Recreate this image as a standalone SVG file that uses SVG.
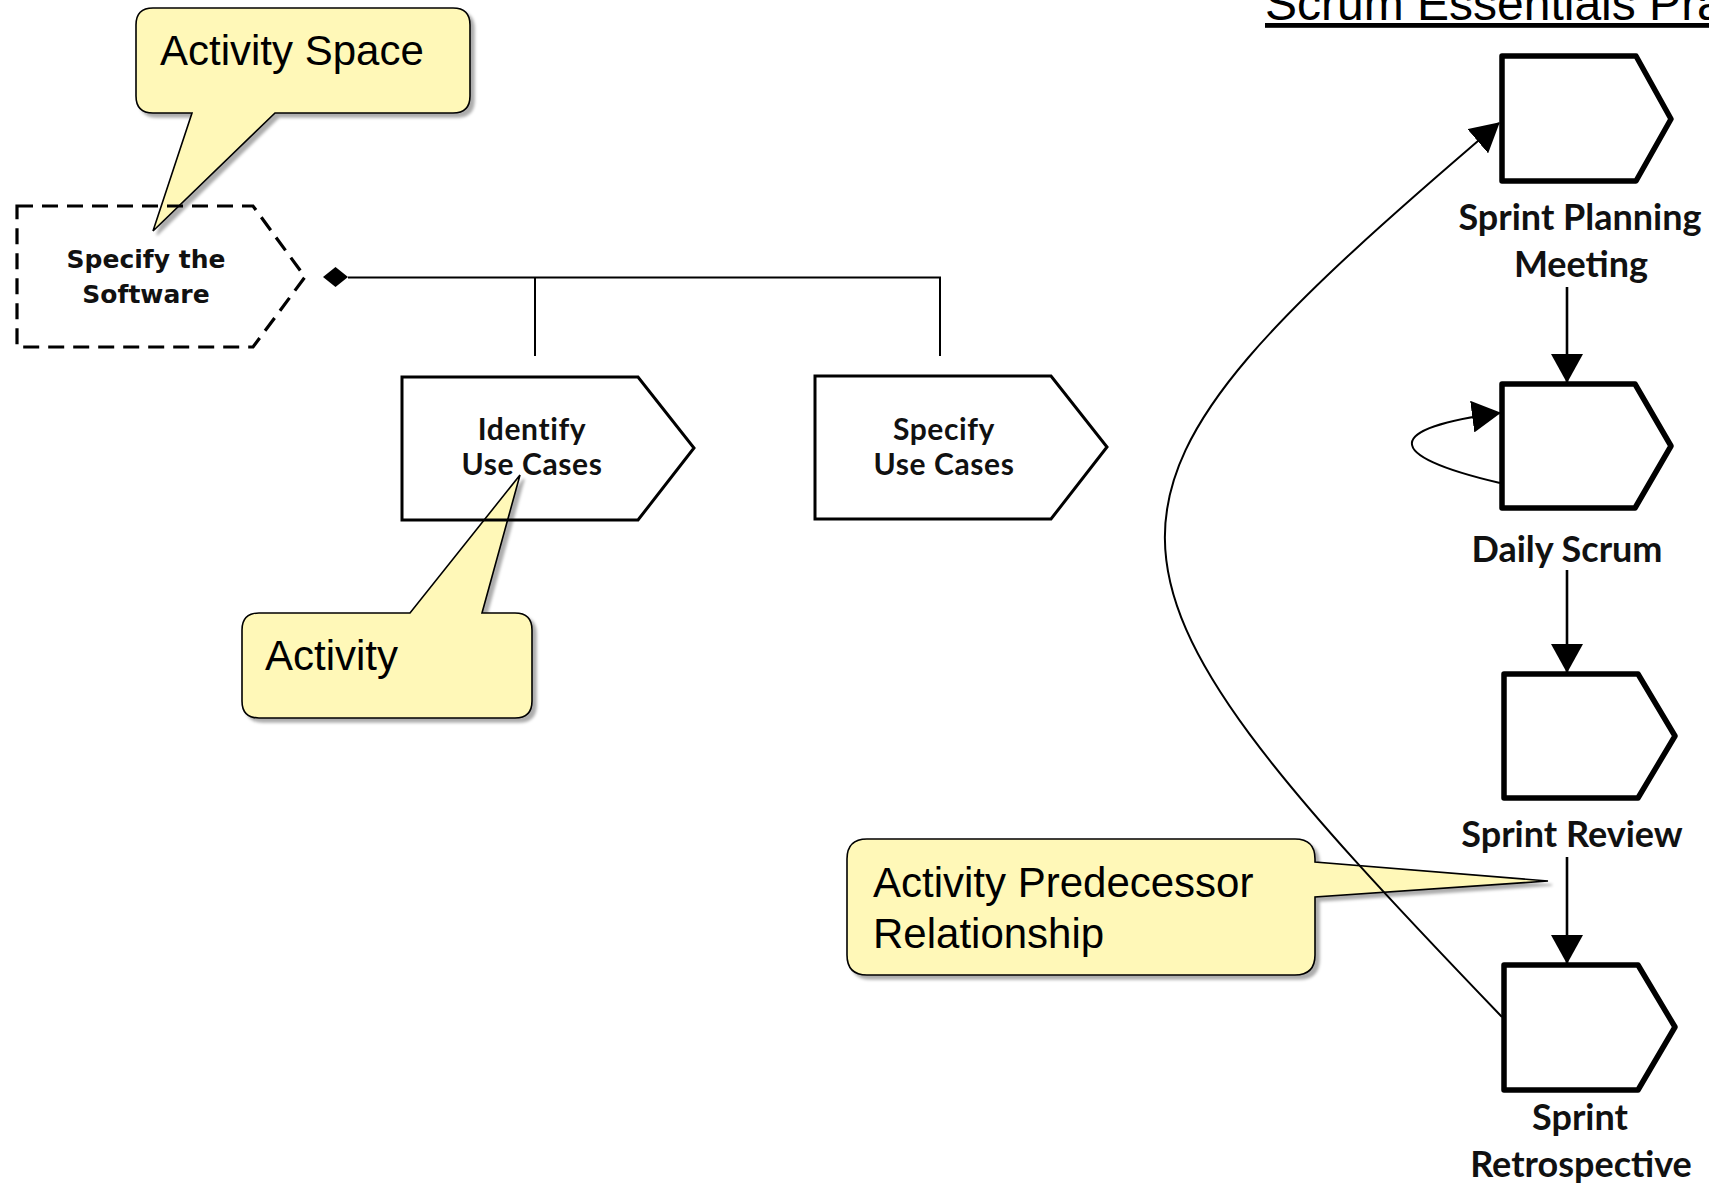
<svg xmlns="http://www.w3.org/2000/svg" width="1709" height="1187" viewBox="0 0 1709 1187">
  <style>
    .note { fill: #fff8b8; stroke: #000; stroke-width: 1.6; filter: url(#shadow); }
    .note-text { font-family: "Liberation Sans", Arial, sans-serif; font-size: 42px; fill: #000; }
    .act { fill: none; stroke: #000; stroke-width: 3; stroke-linejoin: miter; }
    .act-big { fill: none; stroke: #000; stroke-width: 5.5; stroke-linejoin: round; }
    .space { fill: none; stroke: #000; stroke-width: 3.2; stroke-dasharray: 16 9; }
    .lbl { font-family: Lato, "Open Sans", sans-serif; font-weight: 700; fill: #111; text-anchor: middle; }
    .lbl-sm { font-size: 30px; letter-spacing: 0.6px; }
    .lbl-space { font-family: "DejaVu Sans", Verdana, sans-serif; font-weight: 700; font-size: 25px; fill: #111; text-anchor: middle; }
    .conn { fill: none; stroke: #000; stroke-width: 2; }
    .conn-v { fill: none; stroke: #000; stroke-width: 2.6; }
  </style>
  <defs>
    <filter id="shadow" x="-10%" y="-10%" width="130%" height="130%">
      <feDropShadow dx="4" dy="4" stdDeviation="1.5" flood-color="#000" flood-opacity="0.32"/>
    </filter>
    <marker id="arrow" markerUnits="userSpaceOnUse" viewBox="0 0 29 32" markerWidth="29" markerHeight="32" refX="28" refY="16" orient="auto">
      <path d="M0,0 L29,16 L0,32 Z" fill="#000"/>
    </marker>
  </defs>

  <rect x="0" y="0" width="1709" height="1187" fill="#fff"/>

  <!-- practice title, runs past the right edge -->
  <g id="title">
    <text x="1265" y="20" font-family="Liberation Sans, Arial, sans-serif" font-size="48" text-decoration="underline" fill="#000">Scrum Essentials Practice</text>
  </g>

  <!-- annotation callouts -->
  <g id="note-activity-space">
    <path class="note" d="M153,8 H453 Q470,8 470,25 V96 Q470,113 453,113 H275 L153,231 L192,113 H153 Q136,113 136,96 V25 Q136,8 153,8 Z"/>
    <text class="note-text" x="160" y="65">Activity Space</text>
  </g>
  <g id="note-activity">
    <path class="note" d="M259,613 H410 L520,475 L482,613 H515 Q532,613 532,630 V701 Q532,718 515,718 H259 Q242,718 242,701 V630 Q242,613 259,613 Z"/>
    <text class="note-text" x="265" y="670">Activity</text>
  </g>
  <g id="note-predecessor">
    <path class="note" d="M867,839 H1295 Q1315,839 1315,859 V862 L1548,881 L1315,897 V955 Q1315,975 1295,975 H867 Q847,975 847,955 V859 Q847,839 867,839 Z"/>
    <text class="note-text" x="873" y="897" font-size="42.6">Activity Predecessor</text>
    <text class="note-text" x="873" y="948" font-size="42.6">Relationship</text>
  </g>

  <!-- activity space (dashed) -->
  <g id="node-specify-software">
    <path class="space" d="M17,206 H253 L305,277 L253,347 H17 Z"/>
    <text class="lbl-space" x="146" y="268">Specify the</text>
    <text class="lbl-space" x="146" y="303">Software</text>
  </g>

  <!-- activities -->
  <g id="node-identify-use-cases">
    <path class="act" d="M402,377 H638 L694,448 L638,520 H402 Z"/>
    <text class="lbl lbl-sm" x="532" y="440">Identify</text>
    <text class="lbl lbl-sm" x="532" y="475">Use Cases</text>
  </g>
  <g id="node-specify-use-cases">
    <path class="act" d="M815,376 H1051 L1107,447 L1051,519 H815 Z"/>
    <text class="lbl lbl-sm" x="944" y="440">Specify</text>
    <text class="lbl lbl-sm" x="944" y="475">Use Cases</text>
  </g>

  <!-- scrum activities -->
  <g id="node-sprint-planning">
    <path class="act-big" d="M1502,56 H1636 L1671,119 L1636,181 H1502 Z"/>
    <text class="lbl" font-size="36" x="1580" y="230">Sprint Planning</text>
    <text class="lbl" font-size="36" x="1581" y="277">Meeting</text>
  </g>
  <g id="node-daily-scrum">
    <path class="act-big" d="M1502,384 H1635 L1671,446 L1635,508 H1502 Z"/>
    <text class="lbl" font-size="36" x="1567" y="562">Daily Scrum</text>
  </g>
  <g id="node-sprint-review">
    <path class="act-big" d="M1504,674 H1638 L1675,736 L1638,798 H1504 Z"/>
    <text class="lbl" font-size="36" x="1572" y="847">Sprint Review</text>
  </g>
  <g id="node-sprint-retrospective">
    <path class="act-big" d="M1504,965 H1638 L1675,1027 L1638,1090 H1504 Z"/>
    <text class="lbl" font-size="36" x="1580" y="1130">Sprint</text>
    <text class="lbl" font-size="36" x="1581" y="1177">Retrospective</text>
  </g>

  <!-- connectors -->
  <g id="connectors">
    <!-- composition bus from the activity space -->
    <polygon points="323,277 335.5,267 348,277 335.5,287" fill="#000"/>
    <path class="conn" stroke-width="1.8" d="M348,277.5 H940 V356"/>
    <path class="conn" stroke-width="1.8" d="M535,277.5 V356"/>

    <!-- predecessor flow -->
    <path class="conn-v" d="M1567,287 V382" marker-end="url(#arrow)"/>
    <path class="conn-v" d="M1567,570 V672" marker-end="url(#arrow)"/>
    <path class="conn-v" d="M1567,857 V963" marker-end="url(#arrow)"/>

    <!-- daily scrum repeats itself -->
    <path class="conn" d="M1500,483 C1380,455 1385,428 1500,413" marker-end="url(#arrow)"/>

    <!-- retrospective loops back to planning -->
    <path class="conn" d="M1502,1017 C1053,550 1053,504 1499,123" marker-end="url(#arrow)"/>
  </g>
</svg>
